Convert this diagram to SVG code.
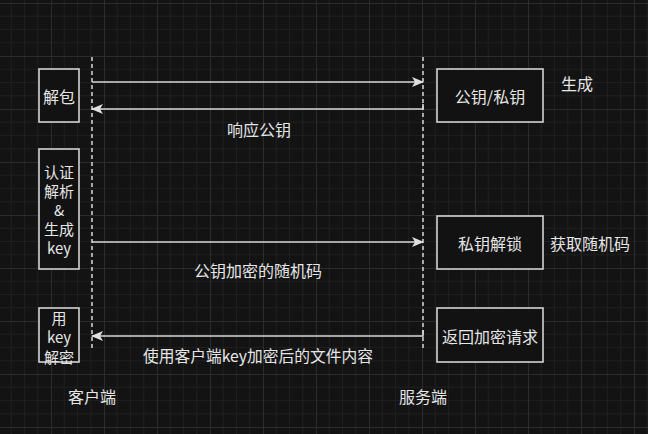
<svg xmlns="http://www.w3.org/2000/svg" width="648" height="434" viewBox="0 0 648 434">
  <style>
    .bg { fill: #131314; }
    .box { fill: #121213; stroke: #d4d4d4; stroke-width: 1.6; }
    .t { font-family: "Noto Sans CJK SC", "Noto Sans", sans-serif; font-size: 16px; fill: #e6e6e6; text-anchor: middle; dominant-baseline: central; }
    .s { font-size: 15px; }
    .life { stroke: #d8d8d8; stroke-width: 1.5; stroke-dasharray: 4 3; fill: none; }
    .msg { stroke: #d8d8d8; stroke-width: 1.6; fill: none; marker-end: url(#arr); }
  </style>
  <defs>
    <pattern id="grid" patternUnits="userSpaceOnUse" x="-2" y="3" width="53" height="53">
      <rect width="53" height="53" fill="#131314"/>
      <path d="M13.25 0V53M26.5 0V53M39.75 0V53M0 13.25H53M0 26.5H53M0 39.75H53" stroke="#1e1e20" stroke-width="1"/>
      <path d="M0.5 0V53M0 0.5H53" stroke="#2c2c2e" stroke-width="1"/>
    </pattern>
    <marker id="arr" viewBox="0 0 12 10" refX="11" refY="5" markerWidth="12" markerHeight="10" markerUnits="userSpaceOnUse" orient="auto">
      <path d="M0 0L12 5L0 10L3 5Z" fill="#e0e0e0"/>
    </marker>
  </defs>
  <rect class="bg" width="648" height="434"/>
  <rect width="648" height="434" fill="url(#grid)"/>

  <g id="connectors">
    <line class="life" x1="92" y1="57" x2="92" y2="349"/>
    <line class="life" x1="423" y1="57" x2="423" y2="349"/>
    <line class="msg" x1="92" y1="82" x2="423" y2="82"/>
    <path class="msg" d="M423 104V109H92"/>
    <line class="msg" x1="92" y1="242" x2="423" y2="242"/>
    <path class="msg" d="M423 330V336H92"/>
  </g>

  <g id="unpack">
    <rect class="box" x="39" y="69" width="40" height="53"/>
    <text class="t" x="59" y="96">解包</text>
  </g>
  <g id="auth">
    <rect class="box" x="39" y="149" width="40" height="120"/>
    <text class="t s" x="59" y="171.5">认证</text>
    <text class="t s" x="59" y="190.5">解析</text>
    <text class="t s" x="59" y="209.5">&amp;</text>
    <text class="t s" x="59" y="228.5">生成</text>
    <text class="t s" x="59" y="247.5">key</text>
  </g>
  <g id="decrypt">
    <rect class="box" x="39" y="308" width="40" height="54"/>
    <text class="t s" x="59" y="317">用</text>
    <text class="t s" x="59" y="336.5">key</text>
    <text class="t s" x="59" y="356">解密</text>
  </g>
  <g id="keypair">
    <rect class="box" x="437" y="69" width="106" height="53"/>
    <text class="t" x="490" y="96">公钥/私钥</text>
  </g>
  <g id="unlock">
    <rect class="box" x="437" y="216" width="106" height="53"/>
    <text class="t" x="490" y="243">私钥解锁</text>
  </g>
  <g id="reply">
    <rect class="box" x="437" y="308" width="106" height="54"/>
    <text class="t" x="490" y="336">返回加密请求</text>
  </g>

  <g id="labels">
    <text class="t" x="577" y="83">生成</text>
    <text class="t" x="590" y="243">获取随机码</text>
    <text class="t" x="259" y="129">响应公钥</text>
    <text class="t" x="258" y="270">公钥加密的随机码</text>
    <text class="t" x="258" y="355" textLength="230" lengthAdjust="spacingAndGlyphs">使用客户端key加密后的文件内容</text>
    <text class="t" x="92" y="396">客户端</text>
    <text class="t" x="423" y="396">服务端</text>
  </g>
</svg>
